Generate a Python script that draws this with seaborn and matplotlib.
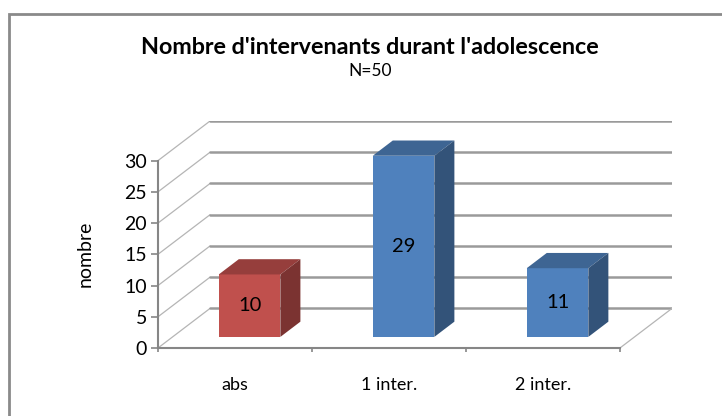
import numpy as np
import pandas as pd
import matplotlib
matplotlib.use("Agg")
import matplotlib.pyplot as plt
from matplotlib.patches import Polygon, Rectangle
import seaborn as sns

# ------------------ Données ------------------
categories = ["abs", "1 inter.", "2 inter."]
values = [10, 29, 11]
bar_colors = ["#C0504D", "#4F81BD", "#4F81BD"]
y_ticks = [0, 5, 10, 15, 20, 25, 30]

title = "Nombre d'intervenants durant l'adolescence"
subtitle = "N=50"
y_label = "nombre"

# ------------------ Pseudo-3D ------------------
DX = 0.338   # profondeur en unités de catégorie
DY = 6.34    # profondeur en unités de valeur
Z0 = 0.28    # face avant des barres
DZ = 0.385   # épaisseur des barres
GRID_COL = "#9a9a9a"
AXIS_COL = "#868686"

sns.set_style("white")
plt.rcParams['font.family'] = ['Lato', 'DejaVu Sans']
plt.rcParams['text.color'] = 'black'
plt.rcParams['axes.labelcolor'] = 'black'
plt.rcParams['xtick.labelcolor'] = 'black'
plt.rcParams['ytick.labelcolor'] = 'black'

fig = plt.figure(figsize=(7.22, 4.16), dpi=100)
ax = fig.add_axes([158 / 722, 68 / 416, 514 / 722, 227 / 416])

df = pd.DataFrame({"cat": categories, "val": values})
sns.barplot(data=df, x="cat", y="val", hue="cat", palette=bar_colors,
            width=0.4, saturation=1, legend=False, ax=ax, zorder=3)

# murs et grille
x_left, x_right = -0.5, len(categories) - 0.5
for t in y_ticks:
    ax.plot([x_left, x_left + DX], [t, t + DY], color="#b5b5b5", lw=0.9, zorder=1)
    ax.plot([x_left + DX, x_right + DX], [t + DY, t + DY], color=GRID_COL, lw=1.8, zorder=1)
ax.plot([x_right, x_right + DX], [0, DY], color="#b5b5b5", lw=0.9, zorder=1)

# faces 3D des barres
def darker(c, f):
    r, g, b = matplotlib.colors.to_rgb(c)
    return (r * f, g * f, b * f)

patches = sorted(ax.patches, key=lambda p: p.get_x())
for p in patches:
    x0 = p.get_x() + Z0 * DX
    y0 = Z0 * DY
    w, h = p.get_width(), p.get_height()
    p.set_x(x0)
    p.set_y(y0)
    p.set_edgecolor("none")
    fc = p.get_facecolor()
    ex, ey = DZ * DX, DZ * DY
    top = Polygon([(x0, y0 + h), (x0 + w, y0 + h), (x0 + w + ex, y0 + h + ey), (x0 + ex, y0 + h + ey)],
                  closed=True, facecolor=darker(fc, 0.78), edgecolor="none", zorder=3)
    side = Polygon([(x0 + w, y0), (x0 + w + ex, y0 + ey), (x0 + w + ex, y0 + h + ey), (x0 + w, y0 + h)],
                   closed=True, facecolor=darker(fc, 0.64), edgecolor="none", zorder=3)
    ax.add_patch(top)
    ax.add_patch(side)

for cont in ax.containers:
    ax.bar_label(cont, label_type="center", fontsize=14.5, color="black", zorder=5)

ax.set_xlim(x_left, x_right + DX)
ax.set_ylim(0, 30 + DY)

# axes
sns.despine(ax=ax, top=True, right=True)
ax.spines['left'].set_bounds(0, 30)
ax.spines['bottom'].set_bounds(x_left, x_right)
for s in ("left", "bottom"):
    ax.spines[s].set_color(AXIS_COL)
    ax.spines[s].set_linewidth(1.5)

ax.set_yticks(y_ticks)
ax.tick_params(axis="y", direction="out", length=5, width=1.2, color=AXIS_COL,
               labelsize=14, pad=3, left=True)
ax.set_xticks(range(len(categories)))
ax.set_xticklabels(categories)
ax.set_xticks(np.arange(x_left, x_right + 0.01, 1), minor=True)
ax.tick_params(axis="x", which="major", length=0, labelsize=13, pad=21)
ax.tick_params(axis="x", which="minor", direction="out", length=3, width=1.2,
               color=AXIS_COL, bottom=True)
ax.set_xlabel("")
ax.set_ylabel(y_label, fontsize=14)
ax.yaxis.set_label_coords(-0.125, 15 / (30 + DY))

fig.text(370 / 722, 1 - 47 / 416, title, ha="center", va="center",
         fontsize=16.8, fontweight="bold", color="black")
fig.text(370 / 722, 1 - 71 / 416, subtitle, ha="center", va="center",
         fontsize=12.5, color="black")

fig.patches.append(Rectangle((9 / 722, -0.1), 1.0, 1.1 - 14 / 416, transform=fig.transFigure,
                             fill=False, edgecolor="#8a8a8a", lw=2))

fig.savefig("out.png", dpi=100)
